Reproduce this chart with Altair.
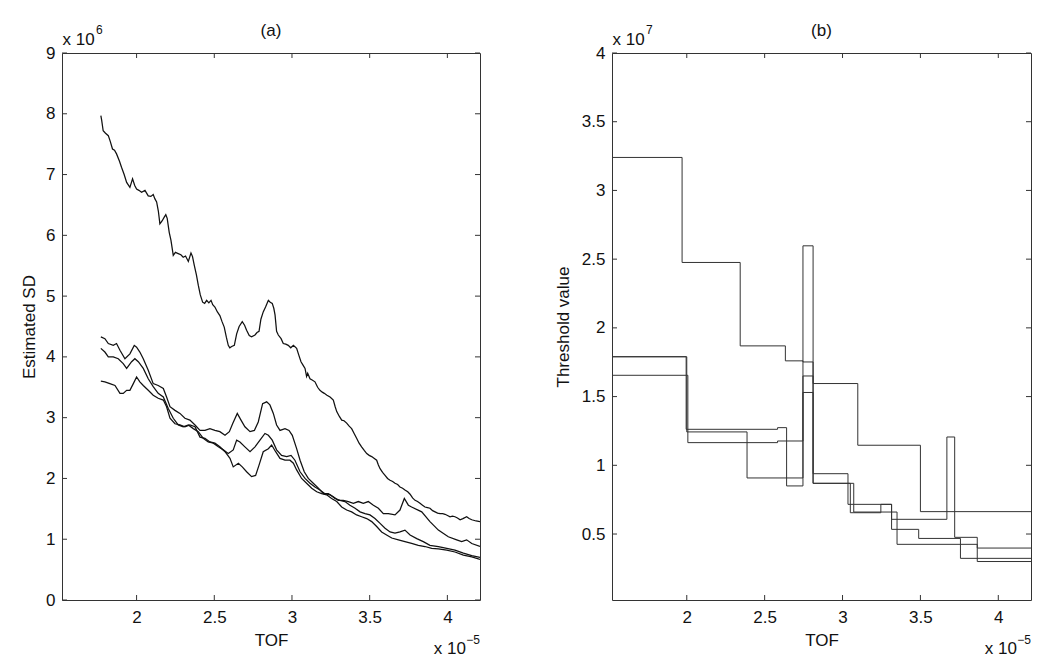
import altair as alt
import pandas as pd

FONT = "Liberation Sans"
INK = "#111111"
FRAME = "#333333"

# ---------------- panel (a): Estimated SD ----------------
# x in units of 1e-5 (TOF), y in units of 1e6
sd_top = [(1.770, 7.97), (1.775, 7.90), (1.785, 7.72), (1.800, 7.68), (1.818, 7.64), (1.830, 7.55),
          (1.845, 7.42), (1.858, 7.40), (1.871, 7.34), (1.890, 7.22), (1.903, 7.12), (1.920, 7.00),
          (1.936, 6.87), (1.957, 6.79), (1.974, 6.93), (1.988, 6.82), (2.000, 6.76), (2.015, 6.74),
          (2.032, 6.71), (2.054, 6.74), (2.075, 6.65), (2.092, 6.64), (2.107, 6.67), (2.118, 6.60),
          (2.129, 6.55), (2.140, 6.40), (2.150, 6.19), (2.165, 6.24), (2.178, 6.30), (2.188, 6.34),
          (2.197, 6.28), (2.210, 6.05), (2.221, 5.92), (2.236, 5.67), (2.250, 5.72), (2.268, 5.70),
          (2.285, 5.68), (2.300, 5.64), (2.315, 5.66), (2.333, 5.57), (2.350, 5.71), (2.360, 5.65),
          (2.371, 5.51), (2.385, 5.35), (2.397, 5.18), (2.410, 5.02), (2.425, 4.90), (2.438, 4.88),
          (2.451, 4.93), (2.465, 4.89), (2.479, 4.93), (2.490, 4.86), (2.504, 4.82), (2.520, 4.74),
          (2.536, 4.68), (2.550, 4.58), (2.564, 4.49), (2.578, 4.32), (2.590, 4.19), (2.600, 4.15),
          (2.612, 4.17), (2.629, 4.19), (2.644, 4.38), (2.660, 4.50), (2.680, 4.58), (2.695, 4.52),
          (2.708, 4.44), (2.725, 4.35), (2.740, 4.33), (2.762, 4.36), (2.775, 4.40), (2.788, 4.42),
          (2.800, 4.62), (2.815, 4.74), (2.830, 4.82), (2.848, 4.93), (2.860, 4.90), (2.873, 4.88),
          (2.883, 4.80), (2.891, 4.69), (2.901, 4.42), (2.912, 4.36), (2.930, 4.30), (2.944, 4.22),
          (2.960, 4.21), (2.976, 4.19), (2.992, 4.15), (3.009, 4.19), (3.030, 4.14), (3.045, 4.02),
          (3.058, 3.92), (3.072, 3.86), (3.084, 3.81), (3.094, 3.68), (3.101, 3.73), (3.116, 3.64),
          (3.130, 3.62), (3.148, 3.59), (3.165, 3.50), (3.180, 3.45), (3.195, 3.42), (3.208, 3.40),
          (3.225, 3.37), (3.245, 3.34), (3.266, 3.29), (3.278, 3.18), (3.288, 3.10), (3.305, 3.02),
          (3.320, 2.96), (3.335, 2.95), (3.352, 2.91), (3.368, 2.86), (3.384, 2.82), (3.400, 2.74),
          (3.416, 2.66), (3.432, 2.58), (3.448, 2.52), (3.465, 2.46), (3.481, 2.41), (3.497, 2.38),
          (3.513, 2.36), (3.530, 2.33), (3.545, 2.30), (3.556, 2.22), (3.567, 2.16), (3.583, 2.10),
          (3.599, 2.05), (3.615, 2.00), (3.631, 1.97), (3.648, 1.95), (3.663, 1.92), (3.680, 1.90),
          (3.695, 1.86), (3.712, 1.84), (3.727, 1.81), (3.745, 1.78), (3.760, 1.74), (3.776, 1.68),
          (3.792, 1.64), (3.808, 1.62), (3.824, 1.59), (3.840, 1.56), (3.856, 1.53), (3.872, 1.52),
          (3.888, 1.51), (3.905, 1.47), (3.921, 1.45), (3.937, 1.43), (3.953, 1.42), (3.970, 1.42),
          (3.985, 1.41), (4.001, 1.39), (4.017, 1.37), (4.033, 1.38), (4.049, 1.37), (4.065, 1.35),
          (4.082, 1.32), (4.100, 1.34), (4.124, 1.37), (4.140, 1.34), (4.157, 1.32), (4.185, 1.30),
          (4.210, 1.29)]

sd_a = [(1.770, 4.33), (1.796, 4.30), (1.818, 4.22), (1.850, 4.19), (1.871, 4.22), (1.893, 4.11),
        (1.925, 3.97), (1.957, 4.05), (1.985, 4.19), (2.000, 4.16), (2.021, 4.08), (2.043, 3.97),
        (2.075, 3.78), (2.107, 3.56), (2.139, 3.53), (2.172, 3.48), (2.193, 3.34), (2.215, 3.18),
        (2.247, 3.12), (2.279, 3.07), (2.311, 2.99), (2.343, 2.96), (2.376, 2.88), (2.408, 2.79),
        (2.440, 2.79), (2.472, 2.82), (2.504, 2.79), (2.536, 2.77), (2.569, 2.71), (2.597, 2.77),
        (2.618, 2.90), (2.648, 3.07), (2.672, 2.96), (2.697, 2.85), (2.730, 2.77), (2.758, 2.79),
        (2.783, 2.93), (2.811, 3.23), (2.837, 3.26), (2.858, 3.21), (2.880, 3.07), (2.901, 2.88),
        (2.923, 2.79), (2.955, 2.82), (2.981, 2.79), (3.002, 2.71), (3.030, 2.49), (3.052, 2.30),
        (3.079, 2.11), (3.105, 2.00), (3.137, 1.92), (3.170, 1.84), (3.202, 1.75), (3.234, 1.75),
        (3.266, 1.70), (3.298, 1.64), (3.330, 1.64), (3.363, 1.62), (3.395, 1.59), (3.427, 1.62),
        (3.459, 1.59), (3.491, 1.62), (3.524, 1.56), (3.556, 1.51), (3.588, 1.42), (3.620, 1.42),
        (3.663, 1.40), (3.695, 1.48), (3.723, 1.67), (3.749, 1.56), (3.770, 1.53), (3.835, 1.45),
        (3.888, 1.29), (3.942, 1.15), (4.006, 1.04), (4.060, 0.99), (4.092, 0.96), (4.124, 0.99),
        (4.157, 0.93), (4.210, 0.88)]

sd_b = [(1.770, 4.14), (1.796, 4.08), (1.818, 4.00), (1.850, 4.00), (1.882, 3.97), (1.914, 3.89),
        (1.936, 3.81), (1.968, 3.92), (1.989, 3.97), (2.011, 3.92), (2.043, 3.81), (2.075, 3.64),
        (2.107, 3.51), (2.139, 3.40), (2.172, 3.34), (2.204, 3.15), (2.236, 2.99), (2.268, 2.88),
        (2.300, 2.85), (2.333, 2.88), (2.365, 2.82), (2.397, 2.77), (2.429, 2.66), (2.461, 2.60),
        (2.494, 2.58), (2.526, 2.52), (2.558, 2.47), (2.590, 2.41), (2.622, 2.47), (2.644, 2.63),
        (2.665, 2.60), (2.697, 2.52), (2.730, 2.44), (2.762, 2.52), (2.794, 2.63), (2.826, 2.74),
        (2.848, 2.71), (2.873, 2.63), (2.901, 2.47), (2.933, 2.38), (2.966, 2.36), (2.994, 2.38),
        (3.019, 2.30), (3.052, 2.11), (3.084, 2.00), (3.116, 1.92), (3.148, 1.86), (3.180, 1.81),
        (3.212, 1.75), (3.245, 1.73), (3.277, 1.67), (3.309, 1.64), (3.341, 1.62), (3.373, 1.56),
        (3.406, 1.51), (3.438, 1.45), (3.470, 1.42), (3.502, 1.40), (3.534, 1.34), (3.567, 1.26),
        (3.599, 1.18), (3.631, 1.12), (3.663, 1.10), (3.695, 1.12), (3.727, 1.15), (3.760, 1.07),
        (3.803, 1.01), (3.845, 0.96), (3.888, 0.90), (3.942, 0.88), (3.996, 0.85), (4.049, 0.82),
        (4.103, 0.77), (4.157, 0.73), (4.210, 0.70)]

sd_c = [(1.770, 3.60), (1.796, 3.59), (1.828, 3.56), (1.861, 3.53), (1.893, 3.40), (1.914, 3.40),
        (1.936, 3.45), (1.957, 3.45), (1.979, 3.56), (2.000, 3.67), (2.021, 3.59), (2.043, 3.53),
        (2.075, 3.45), (2.107, 3.37), (2.139, 3.32), (2.172, 3.29), (2.193, 3.18), (2.215, 2.99),
        (2.247, 2.90), (2.279, 2.88), (2.311, 2.85), (2.343, 2.88), (2.376, 2.85), (2.408, 2.68),
        (2.440, 2.66), (2.472, 2.60), (2.504, 2.58), (2.536, 2.52), (2.569, 2.44), (2.601, 2.33),
        (2.622, 2.19), (2.655, 2.25), (2.680, 2.19), (2.708, 2.11), (2.740, 2.03), (2.766, 2.05),
        (2.788, 2.22), (2.815, 2.44), (2.848, 2.49), (2.869, 2.55), (2.895, 2.44), (2.923, 2.33),
        (2.955, 2.30), (2.987, 2.30), (3.009, 2.25), (3.030, 2.14), (3.062, 2.00), (3.094, 1.92),
        (3.127, 1.84), (3.159, 1.78), (3.191, 1.75), (3.223, 1.73), (3.255, 1.67), (3.288, 1.62),
        (3.320, 1.53), (3.352, 1.48), (3.384, 1.45), (3.416, 1.40), (3.448, 1.37), (3.481, 1.34),
        (3.513, 1.29), (3.545, 1.21), (3.577, 1.12), (3.609, 1.07), (3.642, 1.02), (3.685, 0.99),
        (3.727, 0.96), (3.770, 0.93), (3.813, 0.90), (3.856, 0.88), (3.899, 0.85), (3.942, 0.84),
        (3.996, 0.82), (4.049, 0.79), (4.103, 0.74), (4.157, 0.71), (4.210, 0.67)]

# ---------------- panel (b): Threshold value (step functions) ----------------
# x in units of 1e-5 (start of each step), y in units of 1e7
thr_1 = [(1.520, 3.240), (1.970, 2.476), (2.343, 1.869), (2.633, 1.760), (2.746, 1.752),
         (2.811, 1.595), (3.098, 1.146), (3.500, 0.663), (4.210, 0.663)]
thr_2 = [(1.520, 1.790), (1.996, 1.262), (2.583, 1.274), (2.641, 0.850), (2.746, 2.597),
         (2.811, 0.939), (3.035, 0.716), (3.315, 0.607), (3.670, 1.206), (3.720, 0.476),
         (3.865, 0.398), (4.210, 0.398)]
thr_3 = [(1.520, 1.790), (2.000, 1.243), (2.387, 0.908), (2.746, 1.650), (2.811, 0.869),
         (3.050, 0.655), (3.246, 0.716), (3.315, 0.534), (3.489, 0.468), (3.757, 0.323),
         (4.210, 0.323)]
thr_4 = [(1.520, 1.655), (2.007, 1.165), (2.583, 1.177), (2.746, 1.530), (2.811, 0.869),
         (3.072, 0.660), (3.350, 0.425), (3.865, 0.300), (4.210, 0.300)]

x_ticks = [2, 2.5, 3, 3.5, 4]
sd_ticks = [0, 1, 2, 3, 4, 5, 6, 7, 8, 9]
thr_ticks = [0.5, 1, 1.5, 2, 2.5, 3, 3.5, 4]

X_DOMAIN = [1.52, 4.21]
SD_DOMAIN = [0, 9]
THR_DOMAIN = [0.02, 4]

W_A, W_B, H = 418, 419, 547
TICK = 5


def to_df(series):
    rows = []
    for name, pts in series.items():
        for x, y in pts:
            rows.append({"series": name, "x": x, "y": y})
    return pd.DataFrame(rows)


def text_layer(txt, x, y, size, align="left"):
    return alt.Chart(alt.Data(values=[{}])).mark_text(
        text=txt, font=FONT, fontSize=size, align=align, baseline="alphabetic", color=INK
    ).encode(x=alt.value(x), y=alt.value(y))


def panel(df, yticks, ydomain, ytitle, ptitle, exponent, width, ytitle_x, line_mark):
    xs = alt.Scale(domain=X_DOMAIN, nice=False, zero=False)
    ys = alt.Scale(domain=ydomain, nice=False, zero=False)
    x_axis = alt.Axis(values=x_ticks, format="~g", title="TOF", titleY=45,
                      titleBaseline="alphabetic", labelPadding=9)
    y_axis = alt.Axis(values=yticks, format="~g", title=ytitle, titleX=ytitle_x, titleY=H / 2,
                      titleAngle=270, titleBaseline="alphabetic", titleAlign="center",
                      labelPadding=7)
    lines = alt.Chart(df).mark_line(clip=True, **line_mark).encode(
        x=alt.X("x:Q", scale=xs, axis=x_axis),
        y=alt.Y("y:Q", scale=ys, axis=y_axis),
        detail="series:N",
        order="x:Q",
    )
    xt = pd.DataFrame({"x": x_ticks})
    yt = pd.DataFrame({"y": yticks})
    rule = dict(color=FRAME, strokeWidth=1)
    bottom = alt.Chart(xt).mark_rule(**rule).encode(
        x=alt.X("x:Q", scale=xs, axis=x_axis), y=alt.value(H), y2=alt.value(H - TICK))
    top = alt.Chart(xt).mark_rule(**rule).encode(
        x=alt.X("x:Q", scale=xs, axis=x_axis), y=alt.value(0), y2=alt.value(TICK))
    left = alt.Chart(yt).mark_rule(**rule).encode(
        y=alt.Y("y:Q", scale=ys, axis=y_axis), x=alt.value(0), x2=alt.value(TICK))
    right = alt.Chart(yt).mark_rule(**rule).encode(
        y=alt.Y("y:Q", scale=ys, axis=y_axis), x=alt.value(width), x2=alt.value(width - TICK))
    texts = [
        text_layer(ptitle, width / 2, -17, 17, "center"),
        text_layer("x 10", 0.5, -8, 17),
        text_layer(exponent, 34, -19, 12),
        text_layer("x 10", width - 14, H + 53.5, 17, "right"),
        text_layer("\u22125", width, H + 44, 12, "right"),
    ]
    return alt.layer(lines, bottom, top, left, right, *texts).properties(width=width, height=H)


df_a = to_df({"top": sd_top, "a": sd_a, "b": sd_b, "c": sd_c})
df_b = to_df({"t1": thr_1, "t2": thr_2, "t3": thr_3, "t4": thr_4})

chart_a = panel(df_a, sd_ticks, SD_DOMAIN, "Estimated SD", "(a)", "6", W_A, -28,
                dict(color="#111111", strokeWidth=1.25))
chart_b = panel(df_b, thr_ticks, THR_DOMAIN, "Threshold value", "(b)", "7", W_B, -44,
                dict(color="#333333", strokeWidth=1.0, interpolate="step-after"))

chart = alt.hconcat(chart_a, chart_b, spacing=132, bounds="flush").properties(
    padding={"left": 11, "top": 13, "right": 5, "bottom": 5},
    background="white",
).configure_view(
    stroke=FRAME, strokeWidth=1
).configure_axis(
    grid=False, domain=False, ticks=False, tickSize=0,
    labelFont=FONT, labelFontSize=17, labelColor=INK,
    titleFont=FONT, titleFontSize=17, titleFontWeight="normal", titleColor=INK,
    labelFlush=False, labelOverlap=False,
)

chart.save("out.html", embed_options={"renderer": "svg", "actions": False})
